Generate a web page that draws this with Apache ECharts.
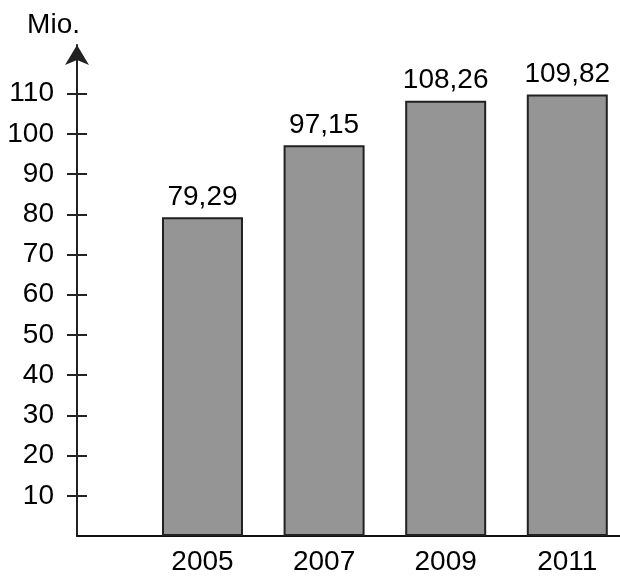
<!DOCTYPE html>
<html>
<head>
<meta charset="utf-8">
<script src="https://cdn.jsdelivr.net/npm/echarts@6/dist/echarts.min.js"></script>
<style>html,body{margin:0;padding:0;background:#fff}#c{width:620px;height:576px}</style>
</head>
<body>
<div id="c"></div>
<script>
var years = [2005, 2007, 2009, 2011];
var values = [79.29, 97.15, 108.26, 109.82];
var yTicks = [10, 20, 30, 40, 50, 60, 70, 80, 90, 100, 110];
var unitLabel = 'Mio.';

var FONT = '"Liberation Sans", Arial, sans-serif';
var chart = echarts.init(document.getElementById('c'), null, {renderer: 'canvas'});
var yBase = {
  type: 'value', min: 0, max: 122.1, interval: 10, position: 'left',
  splitLine: {show: false}
};
chart.setOption({
  animation: false,
  grid: {left: 77, right: 0, top: 45, bottom: 37, containLabel: false},
  xAxis: {
    type: 'value', min: 2002.936, max: 2011.867,
    splitLine: {show: false},
    axisLine: {show: true, lineStyle: {color: '#111', width: 2}},
    axisTick: {show: false},
    axisLabel: {
      customValues: years, margin: 12,
      fontSize: 28, fontFamily: FONT, color: '#000',
      formatter: function (v) { return String(v); }
    }
  },
  yAxis: [
    Object.assign({}, yBase, {
      name: unitLabel, nameLocation: 'end', nameGap: 6,
      nameTextStyle: {fontSize: 28, fontFamily: FONT, color: '#000', align: 'right', padding: [0, -3, 0, 0]},
      axisLine: {show: true, symbol: ['none', 'arrow'], symbolSize: [18, 20],
        lineStyle: {color: '#222', width: 2}},
      axisTick: {show: true, customValues: yTicks, inside: false, length: 10, lineStyle: {color: '#222', width: 2}},
      axisLabel: {customValues: yTicks, margin: 23, fontSize: 28, fontFamily: FONT, color: '#000'}
    }),
    Object.assign({}, yBase, {
      axisLine: {show: false},
      axisTick: {show: true, customValues: yTicks, inside: true, length: 10, lineStyle: {color: '#222', width: 2}},
      axisLabel: {show: false}
    })
  ],
  series: [{
    type: 'bar', xAxisIndex: 0, yAxisIndex: 0, barWidth: 81,
    data: years.map(function (y, i) { return [y, values[i]]; }),
    itemStyle: {color: '#959595', borderColor: '#222', borderWidth: 2},
    label: {
      show: true, position: 'top', distance: 6,
      fontSize: 28, fontFamily: FONT, color: '#000',
      formatter: function (p) { return values[p.dataIndex].toFixed(2).replace('.', ','); }
    }
  }]
});
</script>
</body>
</html>
